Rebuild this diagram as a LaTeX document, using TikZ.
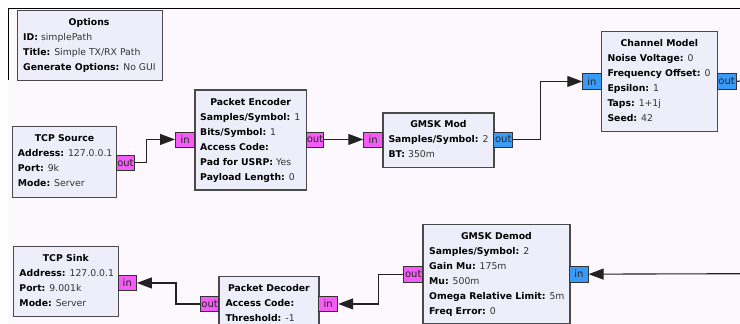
\documentclass[tikz,border=0pt]{standalone}
\usepackage{fontspec}
\setmainfont{DejaVu Sans}
\usetikzlibrary{arrows.meta}

\definecolor{canvas}{HTML}{FDF8FD}
\definecolor{blockfill}{HTML}{EEEEFA}
\definecolor{blockline}{HTML}{4A4A4A}
\definecolor{portpink}{HTML}{F55CF5}
\definecolor{portblue}{HTML}{3A9AF5}
\definecolor{wire}{HTML}{222222}
\definecolor{valuetext}{HTML}{333333}

\tikzset{
  blk/.style={draw=blockline, line width=1.3pt, fill=blockfill, inner sep=0pt, anchor=north west},
  title/.style={font=\fontsize{9.3}{11}\selectfont\bfseries, anchor=base, inner sep=0pt},
  param/.style={font=\fontsize{9.3}{11}\selectfont, anchor=base west, inner sep=0pt, text=valuetext},
  port/.style={draw=black!80, line width=0.9pt, inner sep=0pt, anchor=north west,
    font=\fontsize{10}{12}\selectfont, text=black!85},
  pink/.style={port, fill=portpink},
  blue/.style={port, fill=portblue},
  wirestyle/.style={draw=wire, line width=1.1pt},
  flow/.style={wirestyle, -{Triangle[length=15pt,width=11pt]}},
}

% a parameter line: bold key, regular value
\newcommand{\kv}[2]{\textcolor{black}{\textbf{#1:}} #2}

\begin{document}
\begin{tikzpicture}[x=1pt, y=-1pt]
\useasboundingbox (0,0) rectangle (740,324);
\clip (0,0) rectangle (740,324);

% canvas
\fill[white] (0,0) rectangle (740,324);
\fill[canvas] (8,8) rectangle (740,324);
\draw[black, line width=1pt] (8,80) -- (8,8) -- (740,8);

% ---------- Options ----------
\node[blk, minimum width=145.2pt, minimum height=70pt] (opt) at (16.5,10) {};
\node[title] at (89.1,25.5) {Options};
\node[param] at (23,40.5) {\kv{ID}{simplePath}};
\node[param] at (23,55.5) {\kv{Title}{Simple TX/RX Path}};
\node[param] at (23,70.5) {\kv{Generate Options}{No GUI}};

% ---------- TCP Source ----------
\node[blk, minimum width=104.3pt, minimum height=70.7pt] (src) at (11.7,126) {};
\node[title] at (src.north |- 0,141.5) {TCP Source};
\node[param] at (17.7,156.2) {\kv{Address}{127.0.0.1}};
\node[param] at (17.7,171.2) {\kv{Port}{9k}};
\node[param] at (17.7,186.2) {\kv{Mode}{Server}};
\node[pink, minimum width=18pt, minimum height=14.5pt] (srcout) at (116,155) {out};

% ---------- Packet Encoder ----------
\node[blk, minimum width=111.4pt, minimum height=100pt] (enc) at (194.3,89.3) {};
\node[title] at (enc.north |- 0,105.2) {Packet Encoder};
\node[param] at (200,120.2) {\kv{Samples/Symbol}{1}};
\node[param] at (200,135.2) {\kv{Bits/Symbol}{1}};
\node[param] at (200,150.2) {\kv{Access Code}{}};
\node[param] at (200,165.2) {\kv{Pad for USRP}{Yes}};
\node[param] at (200,180.2) {\kv{Payload Length}{0}};
\node[pink, minimum width=19.3pt, minimum height=15pt] (encin) at (175,131.5) {in};
\node[pink, minimum width=17.6pt, minimum height=15pt] (encout) at (305.7,131.5) {out};

% ---------- GMSK Mod ----------
\node[blk, minimum width=111pt, minimum height=54.4pt] (mod) at (382.3,112.3) {};
\node[title] at (mod.north |- 0,127.8) {GMSK Mod};
\node[param] at (388.3,142.5) {\kv{Samples/Symbol}{2}};
\node[param] at (388.3,157.5) {\kv{BT}{350m}};
\node[pink, minimum width=19pt, minimum height=15pt] (modin) at (363.3,131.5) {in};
\node[blue, minimum width=19pt, minimum height=15pt] (modout) at (493.3,131.5) {out};

% ---------- Channel Model ----------
\node[blk, minimum width=116pt, minimum height=99.7pt] (chan) at (600.7,31) {};
\node[title] at (chan.north |- 0,46.2) {Channel Model};
\node[param] at (607.3,61.2) {\kv{Noise Voltage}{0}};
\node[param] at (607.3,76.2) {\kv{Frequency Offset}{0}};
\node[param] at (607.3,91.2) {\kv{Epsilon}{1}};
\node[param] at (607.3,106.2) {\kv{Taps}{1+1j}};
\node[param] at (607.3,121.2) {\kv{Seed}{42}};
\node[blue, minimum width=18.4pt, minimum height=16pt] (chin) at (582.3,73) {in};
\node[blue, minimum width=19pt, minimum height=16pt] (chout) at (716.7,73) {out};

% ---------- TCP Sink ----------
\node[blk, minimum width=105pt, minimum height=70pt] (sink) at (12.7,246) {};
\node[title] at (sink.north |- 0,261.8) {TCP Sink};
\node[param] at (19.3,276.8) {\kv{Address}{127.0.0.1}};
\node[param] at (19.3,291.8) {\kv{Port}{9.001k}};
\node[param] at (19.3,306.8) {\kv{Mode}{Server}};
\node[pink, minimum width=18.3pt, minimum height=15pt] (sinkin) at (117.7,275) {in};

% ---------- Packet Decoder ----------
\node[blk, minimum width=100pt, minimum height=60pt] (dec) at (218.3,275.7) {};
\node[title] at (dec.north |- 0,291.2) {Packet Decoder};
\node[param] at (225.3,306.8) {\kv{Access Code}{}};
\node[param] at (225.3,321.5) {\kv{Threshold}{-1}};
\node[pink, minimum width=18.3pt, minimum height=15pt] (decout) at (200,296) {out};
\node[pink, minimum width=19pt, minimum height=15pt] (decin) at (318.3,296) {in};

% ---------- GMSK Demod ----------
\node[blk, minimum width=147pt, minimum height=99.3pt] (dem) at (422.3,224) {};
\node[title] at (dem.north |- 0,239.2) {GMSK Demod};
\node[param] at (429,254.2) {\kv{Samples/Symbol}{2}};
\node[param] at (429,269.2) {\kv{Gain Mu}{175m}};
\node[param] at (429,284.2) {\kv{Mu}{500m}};
\node[param] at (429,299.2) {\kv{Omega Relative Limit}{5m}};
\node[param] at (429,314.2) {\kv{Freq Error}{0}};
\node[pink, minimum width=19pt, minimum height=16pt] (demout) at (403.3,265.7) {out};
\node[blue, minimum width=18.4pt, minimum height=16pt] (demin) at (569.3,265.7) {in};

% free ends at the right edge
\coordinate (chanright) at (740,81);
\coordinate (demright) at (740,273.7);

% ---------- connections ----------
\draw[flow] (srcout.east) -- ++(12,0) |- (encin.west);
\draw[flow] (encout.east) -- (modin.west);
\draw[flow] (modout.east) -- ++(27,0) |- (chin.west);
\draw[wirestyle] (chout.east) -- (chanright);
\draw[flow] (demright) -- (demin.east);
\draw[flow] (demout.west) -- ++(-25,0) |- (decin.east);
\draw[flow] (decout.west) -- ++(-24,0) |- (sinkin.east);
\end{tikzpicture}
\end{document}
